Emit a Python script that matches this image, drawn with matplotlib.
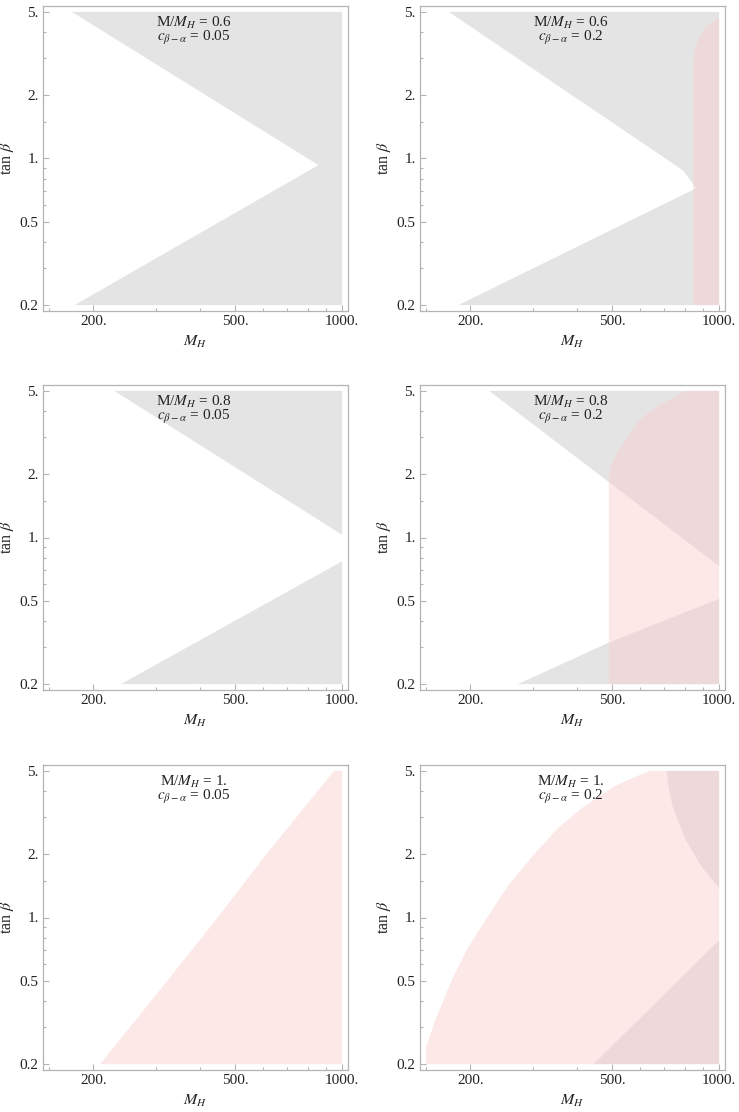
import matplotlib
matplotlib.use("Agg")
import matplotlib.pyplot as plt
from matplotlib.ticker import FixedLocator, FixedFormatter, NullFormatter

plt.rcParams['font.family'] = ['Liberation Serif', 'DejaVu Serif']
plt.rcParams['mathtext.fontset'] = 'stix'

# plot range
m_min, m_max = 150, 1000
t_min, t_max = 0.2, 5.0

x_major = [200, 500, 1000]
x_major_labels = ['200.', '500.', '1000.']
x_minor = [150, 300, 400, 600, 700, 800, 900]
y_major = [0.2, 0.5, 1.0, 2.0, 5.0]
y_major_labels = ['0.2', '0.5', '1.', '2.', '5.']
y_minor = [0.3, 0.4, 0.6, 0.7, 0.8, 0.9, 1.5, 3.0, 4.0]

ratio_labels = ['0.6', '0.6', '0.8', '0.8', '1.', '1.']
cba_labels = ['0.05', '0.2', '0.05', '0.2', '0.05', '0.2']

# --- excluded (gray) region boundaries ---
# M/MH = 0.6, c = 0.05 : one wedge, upper edge then lower edge
g1_upper_m = [174, 858]
g1_upper_t = [5.0, 0.93]
g1_lower_m = [858, 177]
g1_lower_t = [0.93, 0.2]

# M/MH = 0.6, c = 0.2
g2_upper_m = [174, 790, 830, 860]
g2_upper_t = [5.0, 0.88, 0.79, 0.72]
g2_lower_m = [860, 185]
g2_lower_t = [0.72, 0.2]

# M/MH = 0.8, c = 0.05 : two separate regions
g3_upper_m = [229, 1000]
g3_upper_t = [5.0, 1.03]
g3_lower_m = [1000, 239]
g3_lower_t = [0.77, 0.2]

# M/MH = 0.8, c = 0.2
g4_upper_m = [226, 1000]
g4_upper_t = [5.0, 0.73]
g4_lower_m = [1000, 491, 272]
g4_lower_t = [0.51, 0.316, 0.2]

# M/MH = 1, c = 0.2
g6_upper_m = [713, 720, 740, 805, 890, 1000]
g6_upper_t = [5.0, 4.24, 3.38, 2.35, 1.76, 1.38]
g6_lower_m = [1000, 444]
g6_lower_t = [0.78, 0.2]

# --- pink region boundaries ---
p2_m = [846, 846, 852, 868, 895, 940, 1000]
p2_t = [0.2, 2.9, 3.25, 3.6, 4.0, 4.4, 4.65]

p4_m = [490, 490, 496, 524, 603, 684, 805]
p4_t = [0.2, 1.9, 2.2, 2.65, 3.7, 4.3, 5.0]

p5_m = [209, 320, 447, 612, 950]
p5_t = [0.2, 0.49, 1.0, 2.0, 5.0]

p6_m = [150, 150, 159, 177, 197, 223, 257, 302, 351, 417, 507, 636]
p6_t = [0.2, 0.24, 0.32, 0.5, 0.72, 1.0, 1.44, 2.0, 2.65, 3.38, 4.22, 5.0]

GRAY = '#e4e4e4'
PINK = '#fde8e8'
BOTH = '#eed9da'
FRAME = '#b4b4b4'
INK = '#222222'


def gray_patches(ax, parts):
    for ms, ts, cm, ct in parts:
        ax.fill(ms + cm, ts + ct, color=GRAY, lw=0, zorder=1)


def pink_patch(ax, ms, ts):
    top = t_max if ts[-1] < t_max else ts[-1]
    return ax.fill(ms + [m_max, m_max], ts + [top, t_min],
                   color=PINK, lw=0, zorder=2)[0]


def overlap(ax, parts, clip):
    for ms, ts, cm, ct in parts:
        for p in ax.fill(ms + cm, ts + ct, color=BOTH, lw=0, zorder=3):
            p.set_clip_path(clip)


fig = plt.figure(figsize=(7.39, 11.12), dpi=100)
W, H = 739, 1112
cols = [43, 420]
rows = [6, 385, 765]
size = 305

axes = []
for r in rows:
    for c in cols:
        axes.append(fig.add_axes([c / W, 1 - (r + size) / H, size / W, size / H]))

gray_parts = [
    [(g1_upper_m + g1_lower_m, g1_upper_t + g1_lower_t, [m_max, m_max], [t_min, t_max])],
    [(g2_upper_m + g2_lower_m, g2_upper_t + g2_lower_t, [m_max, m_max], [t_min, t_max])],
    [(g3_upper_m, g3_upper_t, [m_max], [t_max]), (g3_lower_m, g3_lower_t, [m_max], [t_min])],
    [(g4_upper_m, g4_upper_t, [m_max], [t_max]), (g4_lower_m, g4_lower_t, [m_max], [t_min])],
    [],
    [(g6_upper_m, g6_upper_t, [m_max], [t_max]), (g6_lower_m, g6_lower_t, [m_max], [t_min])],
]
pinks = [None, (p2_m, p2_t), None, (p4_m, p4_t), (p5_m, p5_t), (p6_m, p6_t)]

pad_x = (m_max / m_min) ** 0.02
pad_y = (t_max / t_min) ** 0.02

for i, ax in enumerate(axes):
    ax.set_xscale('log')
    ax.set_yscale('log')
    gray_patches(ax, gray_parts[i])
    if pinks[i] is not None:
        pp = pink_patch(ax, *pinks[i])
        overlap(ax, gray_parts[i], pp)

    ax.set_xlim(m_min / pad_x, m_max * pad_x)
    ax.set_ylim(t_min / pad_y, t_max * pad_y)

    ax.xaxis.set_major_locator(FixedLocator(x_major))
    ax.xaxis.set_major_formatter(FixedFormatter(x_major_labels))
    ax.xaxis.set_minor_locator(FixedLocator(x_minor))
    ax.xaxis.set_minor_formatter(NullFormatter())
    ax.yaxis.set_major_locator(FixedLocator(y_major))
    ax.yaxis.set_major_formatter(FixedFormatter(y_major_labels))
    ax.yaxis.set_minor_locator(FixedLocator(y_minor))
    ax.yaxis.set_minor_formatter(NullFormatter())

    ax.tick_params(which='both', direction='in', color=FRAME, labelsize=11,
                   labelcolor=INK, width=0.8, pad=3)
    ax.tick_params(which='major', length=4)
    ax.tick_params(which='minor', length=2.5)
    for s in ax.spines.values():
        s.set_color(FRAME)
        s.set_linewidth(0.9)

    ax.set_xlabel(r'$M_H$', fontsize=11.5, color=INK, labelpad=4)
    ax.set_ylabel(r'tan $\beta$', fontsize=11.5, color=INK)
    ax.yaxis.set_label_coords(-0.088, 0.5)

    ax.text(0.494, 0.918, 'M/$M_H$ = ' + ratio_labels[i] + '\n'
            + r'$c_{\beta-\alpha}$ = ' + cba_labels[i], transform=ax.transAxes,
            ha='center', va='center', multialignment='center', linespacing=0.78,
            fontsize=11, color=INK, zorder=5)

fig.savefig('out.png', dpi=100)
